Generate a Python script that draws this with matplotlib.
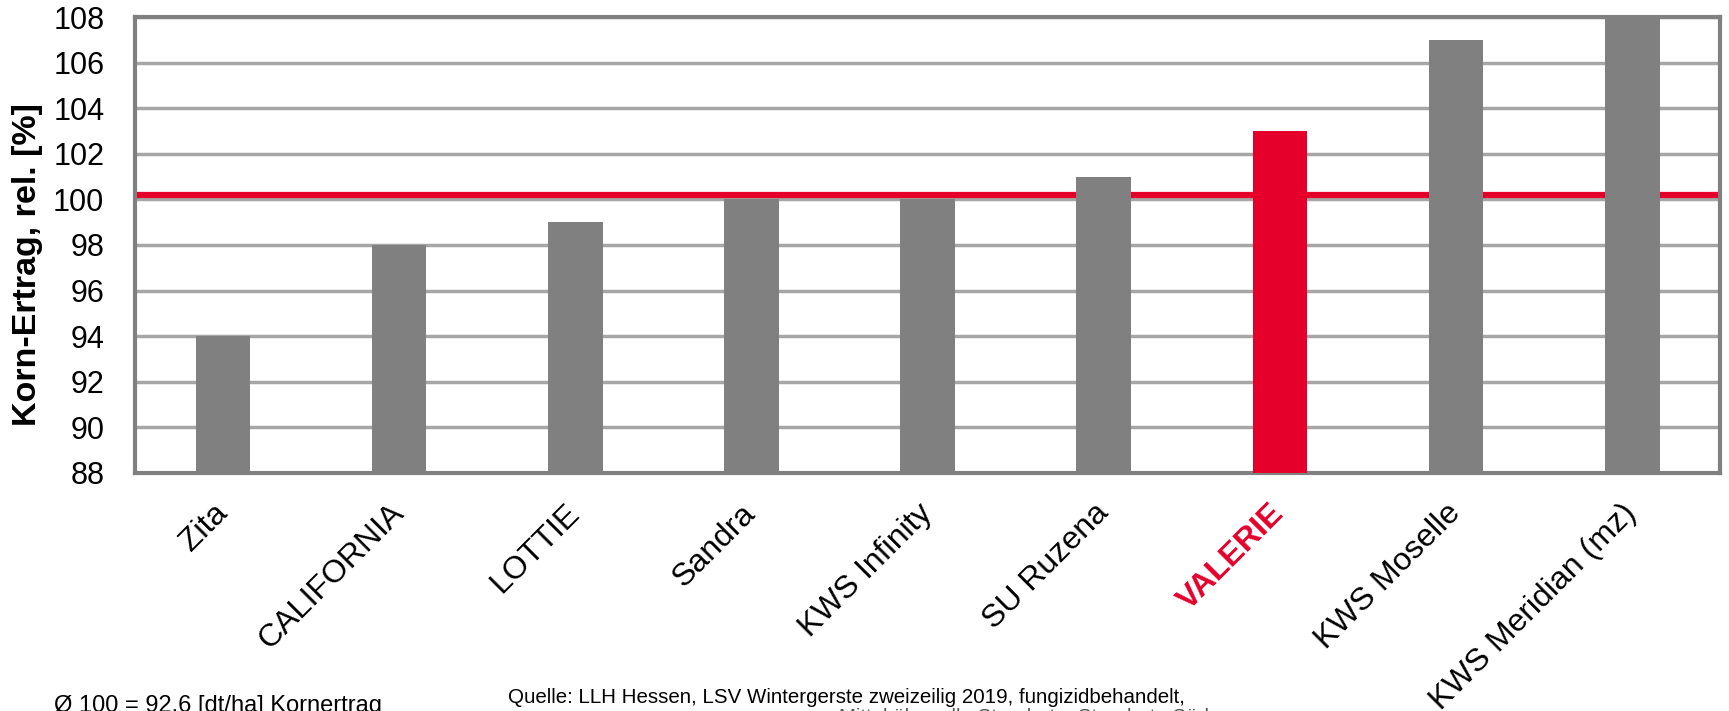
import matplotlib
matplotlib.use('Agg')
import matplotlib.pyplot as plt
import numpy as np

plt.rcParams['font.family'] = ['Liberation Sans', 'DejaVu Sans']

sorten = ['Zita', 'CALIFORNIA', 'LOTTIE', 'Sandra', 'KWS Infinity', 'SU Ruzena',
          'VALERIE', 'KWS Moselle', 'KWS Meridian (mz)']
ertrag = [94, 98, 99, 100, 100, 101, 103, 107, 108]
highlight = 'VALERIE'
mittel_linie = 100.2
yticks = np.arange(88, 109, 2)

grau = '#808080'
rot = '#E4002B'

fig = plt.figure(figsize=(17.29, 7.11), dpi=100)
ax = fig.add_axes([0.078, 0.335, 0.917, 0.641])

x = np.arange(len(sorten))
farben = [rot if s == highlight else grau for s in sorten]
ax.bar(x, ertrag, width=0.31, color=farben, zorder=3)
ax.axhline(mittel_linie, color=rot, lw=4.5, zorder=2)

ax.set_ylim(88, 108)
ax.set_xlim(-0.5, len(sorten) - 0.5)
ax.set_yticks(yticks)
ax.yaxis.grid(True, color='#A6A6A6', lw=2.5, zorder=1)
ax.set_axisbelow(True)
for sp in ax.spines.values():
    sp.set_color(grau)
    sp.set_linewidth(3)

ax.tick_params(axis='y', length=0, pad=22, labelsize=22)
ax.tick_params(axis='x', length=0, pad=26, labelsize=23)
ax.set_xticks(x)
ax.set_xticklabels(sorten, rotation=45, ha='right', va='center', rotation_mode='anchor')
for lab in ax.get_xticklabels():
    if lab.get_text() == highlight:
        lab.set_color(rot)
        lab.set_fontweight('bold')

ax.set_ylabel('Korn-Ertrag, rel. [%]', fontsize=24.5, fontweight='bold')
ax.yaxis.set_label_coords(-0.058, 0.458)

fig.text(0.031, -0.002, 'Ø 100 = 92.6 [dt/ha] Kornertrag', fontsize=17, va='baseline')
fig.text(0.294, 0.011, 'Quelle: LLH Hessen, LSV Wintergerste zweizeilig 2019, fungizidbehandelt,',
         fontsize=14.8, va='baseline')
fig.text(0.485, -0.016, 'Mittel über alle Standorte, Standorte Süd',
         fontsize=14.8, va='baseline', color='#555555')

fig.savefig('out.png', dpi=100)
